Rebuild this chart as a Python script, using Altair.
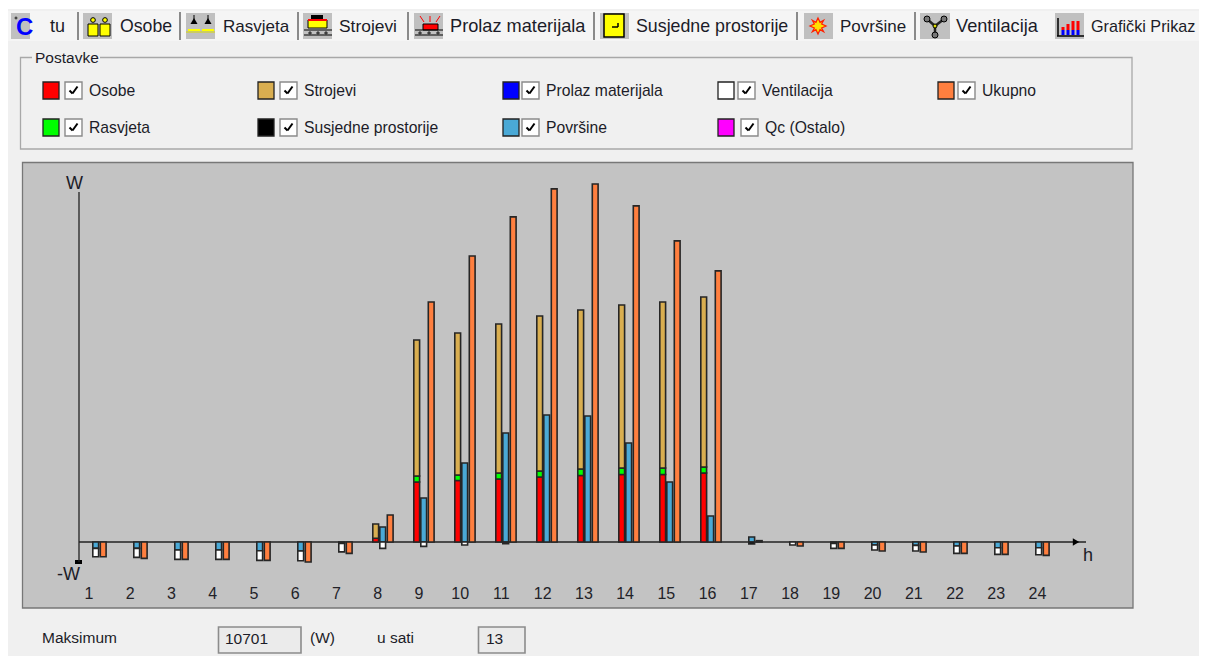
import altair as alt
import pandas as pd

# ---------- chart values (W) ----------
hours = list(range(1, 25))
osobe      = [0,0,0,0,0,0,0,110,1794,1838,1883,1943,1988,2018,2018,2062,0,0,0,0,0,0,0,0]
rasvjeta   = [0,0,0,0,0,0,0,0,180,165,180,180,195,195,195,180,0,0,0,0,0,0,0,0]
strojevi   = [0,0,0,0,0,0,0,430,4065,4245,4454,4633,4753,4872,4962,5082,0,0,0,0,0,0,0,0]
povrsine   = [-190,-190,-240,-240,-260,-270,-45,450,1315,2361,3258,3796,3766,2959,1794,777,150,0,-40,-90,-100,-120,-170,-170]
ventilacija= [-250,-270,-280,-280,-290,-290,-250,-190,-130,-90,0,0,0,0,0,0,0,-90,-150,-150,-170,-220,-200,-210]
susjedne   = [0,0,0,0,0,0,0,0,0,0,-50,0,0,0,0,0,-60,0,0,0,0,0,0,0]
ukupno     = [-440,-490,-520,-520,-550,-600,-340,807,7176,8551,9718,10555,10701,10047,9000,8103,40,-120,-190,-270,-300,-340,-370,-400]

series_names = ["Osobe","Rasvjeta","Strojevi","Površine","Ventilacija","Susjedne prostorije","Ukupno"]
series_colors = ["#ff0000","#00ff00","#d9ae50","#4aa9d6","#ffffff","#000000","#ff7f3f"]
tabs = ["tu","Osobe","Rasvjeta","Strojevi","Prolaz materijala","Susjedne prostorije","Površine","Ventilacija","Grafički Prikaz"]
y_max = 10701

def stacked(columns):
    rows = []
    for i, h in enumerate(hours):
        pos = neg = 0
        for name, vals in columns:
            v = vals[i]
            if v == 0:
                continue
            if v > 0:
                rows.append(dict(hour=h, series=name, v0=pos, v1=pos + v)); pos += v
            else:
                rows.append(dict(hour=h, series=name, v0=neg, v1=neg + v)); neg += v
    return pd.DataFrame(rows)

left_df = stacked([("Osobe",osobe),("Rasvjeta",rasvjeta),("Strojevi",strojevi)])
mid_df  = stacked([("Površine",povrsine),("Ventilacija",ventilacija),("Susjedne prostorije",susjedne)])
tot_df  = stacked([("Ukupno",ukupno)])

# ---------- window chrome layout, in page pixels ----------
OX, OY = 8, 8
W_SVG, H_SVG = 1191, 648
rects, rules, syms, texts, bold = [], [], [], [], []
def R(x0,y0,x1,y1,fill,stroke="transparent",sw=0):
    rects.append(dict(x0=x0-OX,y0=y0-OY,x1=x1-OX,y1=y1-OY,fill=fill,stroke=stroke,sw=sw))
def L(x0,y0,x1,y1,color="#000000",w=1):
    rules.append(dict(x0=x0-OX,y0=y0-OY,x1=x1-OX,y1=y1-OY,color=color,w=w))
def S(x,y,shape,size,fill,stroke="transparent",sw=0):
    syms.append(dict(x=x-OX,y=y-OY,shape=shape,size=size,fill=fill,stroke=stroke,sw=sw))
def T(t,x,y,size,color="#1c1c28"):
    texts.append(dict(t=t,x=x-OX,y=y+1-OY,size=size,color=color))

R(0,9,1207,656,"#f0f0f0")
R(5,11,1207,41,"#f5f5f5")
# tabs
tab_x = [50,120,223,339,450,636,840,956,1091]
tab_size = [18,17.7,17,17.4,18.2,17.8,17,18.2,16.2]
for t,x,s in zip(tabs,tab_x,tab_size):
    T(t,x,25.5,s)
for x in [78,180,298,408,594,797,915]:
    L(x,12,x,40,"#8a8a8a",2)
for x0,x1 in [(11,30),(83,112),(186,215),(303,332),(414,443),(600,629),(804,833),(920,950),(1055,1084)]:
    R(x0,13,x1,39,"#c0c0c0")
# icons
S(16,18,"circle",4,"transparent","#000000",0.8)
bold.append(dict(t="C",x=16-OX,y=28-OY,size=24,color="#0000ff"))
for x0 in [88,100]:
    S(x0+5,20,"circle",22,"#ffff00","#000000",1)
    R(x0,24,x0+10,36,"#ffff00","#000000",1)
for c in [194,208]:
    S(c,21,"triangle-up",50,"#000000")
    L(c,15,c,20,"#000000",1)
    L(c-6,30,c+6,30,"#ffff00",2)
L(186,32,215,32,"#d8d800",1)
R(308,20,327,28,"#ffff00","#000000",1)
R(311,15,323,19,"#000000")
R(308,19,327,21,"#ff0000")
L(304,30,332,30,"#000000",1); L(304,35,332,35,"#000000",1)
R(423,24,438,30,"#ff0000","#000000",1)
for a,b in [(424,420),(430,430),(436,440)]:
    L(a,22,b,16,"#ff0000",1)
L(415,30,443,30,"#000000",1); L(415,35,443,35,"#000000",1)
for x in [310,318,326,420,429,438]:
    S(x,33,"cross",12,"#333333")
R(604,14,624,37,"#ffff00","#000000",1.5)
L(612,27,618,27,"#000000",1.5); L(618,23,618,27,"#000000",1.5)
S(818,26,"M0,-1 L0.25,-0.45 L0.7,-0.7 L0.45,-0.25 L1,0 L0.45,0.25 L0.7,0.7 L0.25,0.45 L0,1 L-0.25,0.45 L-0.7,0.7 L-0.45,0.25 L-1,0 L-0.45,-0.25 L-0.7,-0.7 L-0.25,-0.45 Z",260,"#ffe000","#ff2000",1.2)
for a,b in [(927,19),(944,19),(935,35)]:
    L(935,26,a,b,"#222222",2.5)
    S(a,b,"circle",36,"#777777","#000000",1)
S(935,26,"circle",16,"#dddd00","#000000",1)
L(1058,18,1058,36,"#000000",1.5); L(1057,36,1084,36,"#000000",1.5)
for x,top in [(1063,27),(1068,24),(1073,21),(1078,21)]:
    R(x-1.5,top,x+1.5,30,"#ff0000")
    R(x-1.5,30,x+1.5,35,"#0000ff")
# settings box
R(20.5,57.5,1132,149,"#f0f0f0","#a8a8a8",1.3)
R(32,50,100,64,"#f0f0f0")
T("Postavke",35,57,15.5)
legend_items = [
 ("Osobe","#ff0000",43,64,89,90),("Rasvjeta","#00ff00",43,64,89,127),
 ("Strojevi","#d9ae50",258,279,304,90),("Susjedne prostorije","#000000",258,279,304,127),
 ("Prolaz materijala","#0000ff",503,521,546,90),("Površine","#4aa9d6",503,521,546,127),
 ("Ventilacija","#ffffff",718,737,762,90),("Qc (Ostalo)","#ff00ff",718,740,765,127),
 ("Ukupno","#ff7f3f",938,957,982,90)]
for name,col,sx,cx,tx,y in legend_items:
    R(sx,y-8,sx+16,y+9,col,"#222222",1.3)
    R(cx+1,y-8,cx+18,y+9,"#ffffff","#8a8a8a",1.4)
    L(cx+5.5,y+0.5,cx+8.5,y+3.5,"#000000",2)
    L(cx+8.5,y+3.5,cx+13.5,y-3.5,"#000000",2)
    T(name,tx,y,15.7)
# plot panel
R(22.5,162.5,1133,608,"#c3c3c3","#777777",1.3)
L(79,192,79,562,"#222222",1.3)
L(79,542,1086,542,"#222222",1.3)
S(1076,542,"triangle-right",55,"#000000")
R(75,560,82,564,"#000000")
T("W",66,183,18); T("-W",57,574,18); T("h",1083,555,18)
# footer
T("Maksimum",42,636.5,15.5)
R(218.5,627,301,653,"#ebebeb","#8c8c8c",1.6)
T("10701",225,638,15.5)
T("(W)",310,636.5,15.5)
T("u sati",377,636.5,15.5)
R(478.5,627,525,653,"#ebebeb","#8c8c8c",1.6)
T("13",486,638,15.5)

FONT = "Liberation Sans"
px = dict(scale=None, axis=None)
chrome_rect = alt.Chart(pd.DataFrame(rects)).mark_rect().encode(
    x=alt.X("x0:Q",**px), x2="x1:Q", y=alt.Y("y0:Q",**px), y2="y1:Q",
    fill=alt.Fill("fill:N",scale=None), stroke=alt.Stroke("stroke:N",scale=None),
    strokeWidth=alt.StrokeWidth("sw:Q",scale=None))
chrome_rule = alt.Chart(pd.DataFrame(rules)).mark_rule().encode(
    x=alt.X("x0:Q",**px), x2="x1:Q", y=alt.Y("y0:Q",**px), y2="y1:Q",
    color=alt.Color("color:N",scale=None), strokeWidth=alt.StrokeWidth("w:Q",scale=None))
chrome_sym = alt.Chart(pd.DataFrame(syms)).mark_point(filled=True,opacity=1).encode(
    x=alt.X("x:Q",**px), y=alt.Y("y:Q",**px),
    shape=alt.Shape("shape:N",scale=None), size=alt.Size("size:Q",scale=None),
    fill=alt.Fill("fill:N",scale=None), stroke=alt.Stroke("stroke:N",scale=None),
    strokeWidth=alt.StrokeWidth("sw:Q",scale=None))
def text_layer(rows, **kw):
    return alt.Chart(pd.DataFrame(rows)).mark_text(align="left",baseline="middle",font=FONT,**kw).encode(
        x=alt.X("x:Q",**px), y=alt.Y("y:Q",**px), text="t:N",
        size=alt.Size("size:Q",scale=None), color=alt.Color("color:N",scale=None))
chrome_text = text_layer(texts)
chrome_bold = text_layer(bold, fontWeight="bold")

# ---------- data layers ----------
x_scale = alt.Scale(domain=[1,24], range=[87.7,1030.7], padding=0)
y_scale = alt.Scale(domain=[0,y_max], range=[534,176])
color = alt.Color("series:N", scale=alt.Scale(domain=series_names, range=series_colors), legend=None)

def bars(df, off):
    return alt.Chart(df).mark_bar(size=5.8, xOffset=off, stroke="#262626", strokeWidth=1.6, opacity=1).encode(
        x=alt.X("hour:Q", scale=x_scale, axis=None),
        y=alt.Y("v1:Q", scale=y_scale, axis=None),
        y2="v0:Q",
        color=color)

hour_axis = alt.Chart(pd.DataFrame({"hour":hours})).mark_point(opacity=0).encode(
    x=alt.X("hour:Q", scale=alt.Scale(domain=[1,24], range=[80.5,1029]),
            axis=alt.Axis(values=hours, format="d", title=None, domain=False, ticks=False, grid=False, zindex=1,
                          offset=-(H_SVG-577), labelPadding=0, labelFont=FONT, labelFontSize=16,
                          labelColor="#222228", labelOverlap=False, labelFlush=False)),
    y=alt.value(0))

chart = alt.layer(chrome_rect, chrome_rule, chrome_sym, chrome_text, chrome_bold, hour_axis,
                  bars(left_df,-7), bars(mid_df,0), bars(tot_df,7.5)
    ).resolve_scale(x="independent", y="independent", color="independent"
    ).properties(width=W_SVG, height=H_SVG, padding=0, autosize=alt.AutoSizeParams(type="none"), background="white"
    ).configure_view(stroke=None)

chart.save("out.html", embed_options={"renderer":"svg","actions":False})
